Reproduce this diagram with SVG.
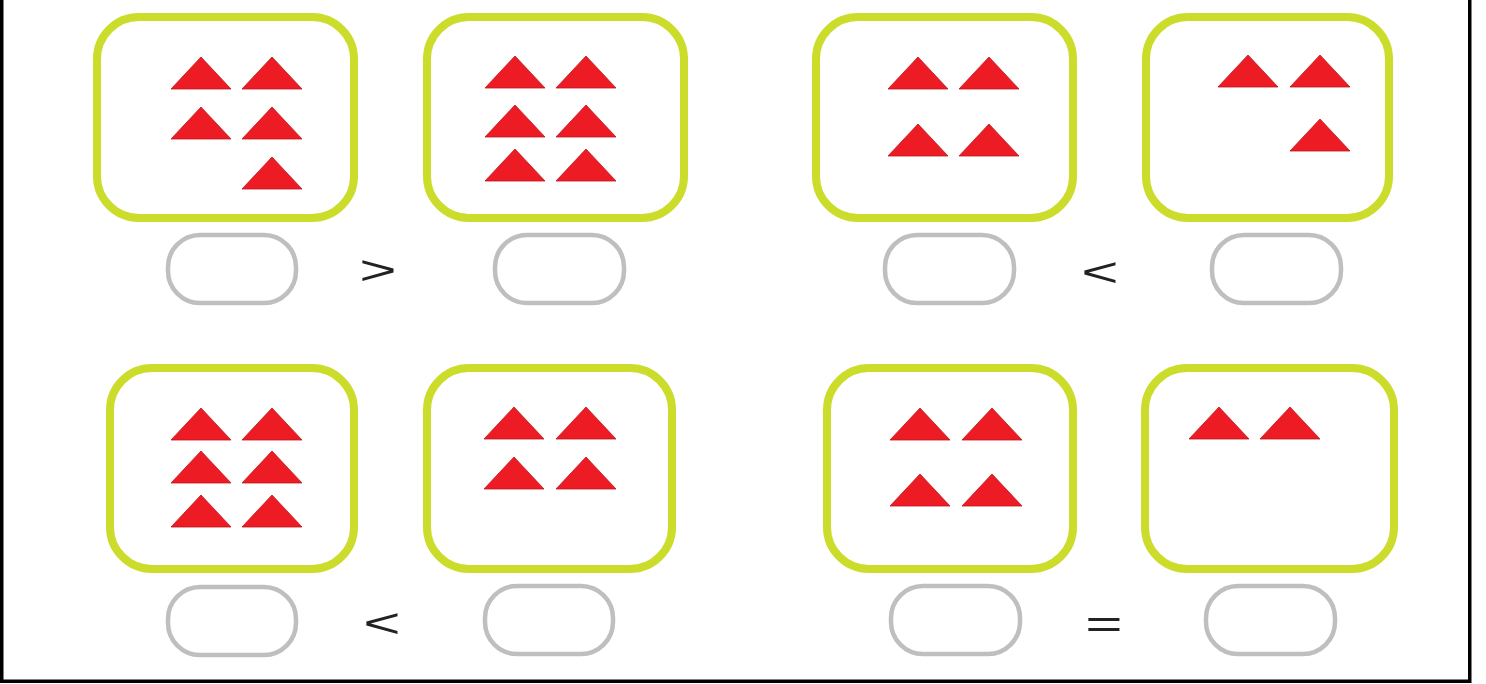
<svg xmlns="http://www.w3.org/2000/svg" xmlns:xlink="http://www.w3.org/1999/xlink" width="1486" height="684" viewBox="0 0 1486 684">
<style>
.box{fill:#ffffff;stroke:#cbdc2b;stroke-width:8}
.oval{fill:#ffffff;stroke:#bfbfbf;stroke-width:4.5}
.tri{fill:#ed1c24;stroke:#c0141c;stroke-width:0.8}
.sym{font-family:"Liberation Sans",Arial,sans-serif;font-size:40px;fill:#222222}
.frame{fill:none;stroke:#000000;stroke-width:3.5}
</style>
<defs>
<polygon id="t" class="tri" points="0,32 30,0 60,32"/>
</defs>
<rect x="0" y="0" width="1486" height="684" fill="#ffffff"/>
<path class="frame" d="M1.75,-5 V681.25 H1469.75 V-5"/>

<g id="pair1-left">
<rect class="box" x="97" y="17" width="257" height="201" rx="42"/>
<use xlink:href="#t" x="171" y="57"/><use xlink:href="#t" x="242" y="57"/>
<use xlink:href="#t" x="171" y="107"/><use xlink:href="#t" x="242" y="107"/>
<use xlink:href="#t" x="242" y="157"/>
<rect class="oval" x="168" y="235" width="128" height="68" rx="32"/>
</g>
<g id="pair1-right">
<rect class="box" x="427" y="17" width="257" height="201" rx="42"/>
<use xlink:href="#t" x="485" y="56"/><use xlink:href="#t" x="556" y="56"/>
<use xlink:href="#t" x="485" y="105"/><use xlink:href="#t" x="556" y="105"/>
<use xlink:href="#t" x="485" y="149"/><use xlink:href="#t" x="556" y="149"/>
<rect class="oval" x="495" y="235" width="129" height="68" rx="32"/>
</g>
<g id="pair2-left">
<rect class="box" x="816" y="17" width="257" height="201" rx="42"/>
<use xlink:href="#t" x="888" y="57"/><use xlink:href="#t" x="959" y="57"/>
<use xlink:href="#t" x="888" y="124"/><use xlink:href="#t" x="959" y="124"/>
<rect class="oval" x="885" y="235" width="129" height="68" rx="32"/>
</g>
<g id="pair2-right">
<rect class="box" x="1146" y="17" width="243" height="201" rx="42"/>
<use xlink:href="#t" x="1218" y="55"/><use xlink:href="#t" x="1290" y="55"/>
<use xlink:href="#t" x="1290" y="119"/>
<rect class="oval" x="1212" y="235" width="129" height="68" rx="32"/>
</g>
<g id="pair3-left">
<rect class="box" x="110" y="368" width="244" height="201" rx="42"/>
<use xlink:href="#t" x="171" y="408"/><use xlink:href="#t" x="242" y="408"/>
<use xlink:href="#t" x="171" y="451"/><use xlink:href="#t" x="242" y="451"/>
<use xlink:href="#t" x="171" y="495"/><use xlink:href="#t" x="242" y="495"/>
<rect class="oval" x="168" y="587" width="128" height="68" rx="32"/>
</g>
<g id="pair3-right">
<rect class="box" x="427" y="368" width="245" height="201" rx="42"/>
<use xlink:href="#t" x="484" y="407"/><use xlink:href="#t" x="556" y="407"/>
<use xlink:href="#t" x="484" y="457"/><use xlink:href="#t" x="556" y="457"/>
<rect class="oval" x="485" y="586" width="128" height="68" rx="32"/>
</g>
<g id="pair4-left">
<rect class="box" x="827" y="368" width="246" height="201" rx="42"/>
<use xlink:href="#t" x="890" y="408"/><use xlink:href="#t" x="962" y="408"/>
<use xlink:href="#t" x="890" y="474"/><use xlink:href="#t" x="962" y="474"/>
<rect class="oval" x="891" y="586" width="129" height="68" rx="32"/>
</g>
<g id="pair4-right">
<rect class="box" x="1145" y="368" width="249" height="201" rx="42"/>
<use xlink:href="#t" x="1189" y="407"/><use xlink:href="#t" x="1260" y="407"/>
<rect class="oval" x="1206" y="586" width="129" height="68" rx="32"/>
</g>

<g id="symbols">
<text class="sym" transform="translate(378,284) scale(1.6,1)" text-anchor="middle">&gt;</text>
<text class="sym" transform="translate(1100,286) scale(1.6,1)" text-anchor="middle">&lt;</text>
<text class="sym" transform="translate(382,637) scale(1.6,1)" text-anchor="middle">&lt;</text>
<text class="sym" transform="translate(1104,638) scale(1.6,1)" text-anchor="middle">=</text>
</g>
</svg>
